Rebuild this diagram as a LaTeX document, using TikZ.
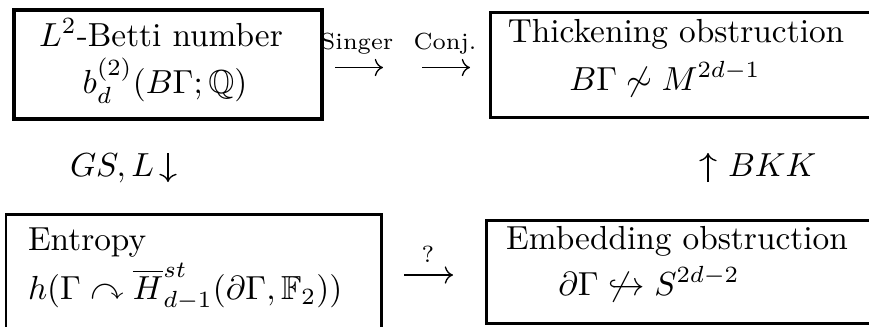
\documentclass[tikz,border=0pt]{standalone}
\usepackage{amsmath,amssymb}
\usetikzlibrary{arrows.meta}
\tikzset{
  boxline/.style={draw=black, line width=0.9pt},
  thickbox/.style={draw=black, line width=1.2pt},
  txt/.style={inner sep=0pt, outer sep=0pt, anchor=base},
  txtl/.style={inner sep=0pt, outer sep=0pt, anchor=base west},
  arr/.style={line width=0.4pt, -{Computer Modern Rightarrow}},
  lab/.style={inner sep=0pt, outer sep=0pt, anchor=base, font=\scriptsize},
}
\begin{document}
\begin{tikzpicture}[x=0.3pt,y=-0.3pt]
\useasboundingbox (0,0) rectangle (869,326);
\clip (0,0) rectangle (869,326);
% boxes
\draw[thickbox] (14,10) rectangle (322,118.5);
\draw[boxline] (490,12) rectangle (880,117.5);
\draw[boxline] (6,214.5) rectangle (381,340);
\draw[boxline] (486,220) rectangle (880,323);
% texts
\node[txt] (l2) at (161,46) {$L^2$-Betti number};
\node[txt] (b2) at (165,93) {$b_d^{(2)}(B\Gamma;\mathbb{Q})$};
\node[txt] (th) at (676,42) {Thickening obstruction};
\node[txt] (bm) at (665,90) {$B\Gamma\not\sim M^{2d-1}$};
\node[txtl] (en) at (28,250) {Entropy};
\node[txtl] (hh) at (28,299) {$h(\Gamma\curvearrowright\overline{H}^{st}_{d-1}(\partial\Gamma,\mathbb{F}_2))$};
\node[txt] (em) at (677,249) {Embedding obstruction};
\node[txt] (ds) at (649,295) {$\partial\Gamma\not\hookrightarrow S^{2d-2}$};
% horizontal arrows
\coordinate (s1) at (335,67.5); \coordinate (s2) at (383,67.5);
\coordinate (c1) at (422,67.5); \coordinate (c2) at (470,67.5);
\coordinate (q1) at (404,275); \coordinate (q2) at (453,275);
\draw[arr] (s1) -- (s2);
\draw[arr] (c1) -- (c2);
\draw[arr] (q1) -- (q2);
\node[lab] (sl) at (357,49) {Singer};
\node[lab] (cl) at (445,49) {Conj.};
\node[lab] (ql) at (428,262) {?};
% vertical arrows
\coordinate (d1) at (168,153); \coordinate (d2) at (168,182);
\coordinate (u1) at (708,182); \coordinate (u2) at (708,153);
\draw[arr] (d1) -- (d2);
\draw[arr] (u1) -- (u2);
\node[txtl] (gs) at (70,176) {$GS, L$};
\node[txtl] (bk) at (728,176) {$BKK$};
\end{tikzpicture}
\end{document}
